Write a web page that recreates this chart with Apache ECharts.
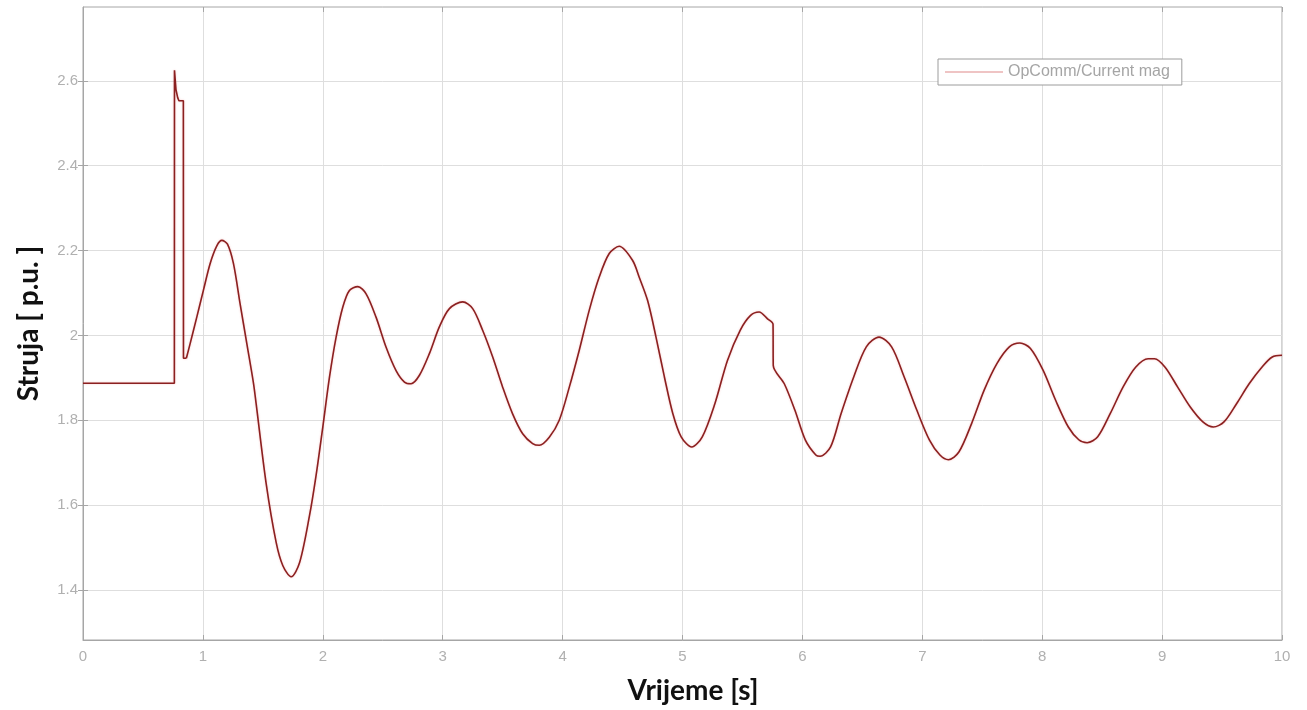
<!DOCTYPE html>
<html>
<head>
<meta charset="utf-8">
<script src="https://cdn.jsdelivr.net/npm/echarts@6/dist/echarts.min.js"></script>
<style>
html,body{margin:0;padding:0;background:#fff;}
#chart{width:1307px;height:710px;}
</style>
</head>
<body>
<div id="chart"></div>
<script>
// ---- data ----
var seriesName = 'OpComm/Current mag';
var xTitle = 'Vrijeme [s]';
var yTitle = 'Struja [ p.u. ]';
var yTickValues = [1.4, 1.6, 1.8, 2.0, 2.2, 2.4, 2.6];
var xMin = 0, xMax = 10, xStep = 1;
var yMin = 1.282, yMax = 2.774;

var time = [
  0, 0.762, 0.763, 0.775, 0.79, 0.80, 0.837, 0.838, 0.862, 0.893,
  0.949, 1.004, 1.06, 1.116, 1.158, 1.205, 1.255, 1.31, 1.366, 1.422,
  1.444, 1.528, 1.611, 1.667, 1.736, 1.806, 1.889, 1.944, 2.0, 2.056,
  2.111, 2.167, 2.222, 2.292, 2.361, 2.444, 2.528, 2.611, 2.681, 2.736,
  2.806, 2.889, 2.972, 3.056, 3.167, 3.25, 3.333, 3.417, 3.5, 3.583,
  3.667, 3.75, 3.806, 3.889, 3.972, 4.056, 4.139, 4.222, 4.306, 4.389,
  4.472, 4.583, 4.639, 4.709, 4.779, 4.849, 4.919, 4.989, 5.077, 5.165,
  5.27, 5.375, 5.481, 5.568, 5.639, 5.709, 5.755, 5.757, 5.849, 5.937,
  6.025, 6.112, 6.147, 6.235, 6.323, 6.428, 6.533, 6.639, 6.744, 6.849,
  6.954, 7.06, 7.147, 7.218, 7.305, 7.411, 7.516, 7.621, 7.726, 7.814,
  7.902, 8.007, 8.112, 8.218, 8.305, 8.375, 8.463, 8.568, 8.674, 8.779,
  8.884, 8.937, 9.025, 9.13, 9.235, 9.34, 9.428, 9.516, 9.621, 9.726,
  9.832, 9.919, 10.0
];
var current = [
  1.887, 1.887, 2.625, 2.58, 2.56, 2.553, 2.553, 1.946, 1.946, 1.98,
  2.043, 2.106, 2.169, 2.211, 2.224, 2.215, 2.169, 2.075, 1.981, 1.887,
  1.839, 1.65, 1.512, 1.457, 1.431, 1.464, 1.575, 1.67, 1.784, 1.902,
  1.996, 2.067, 2.106, 2.115, 2.098, 2.043, 1.972, 1.917, 1.89, 1.886,
  1.906, 1.957, 2.02, 2.063, 2.079, 2.063, 2.012, 1.949, 1.878, 1.815,
  1.768, 1.745, 1.741, 1.76, 1.8, 1.878, 1.965, 2.059, 2.138, 2.193,
  2.21, 2.177, 2.137, 2.082, 1.996, 1.902, 1.816, 1.761, 1.737, 1.761,
  1.839, 1.941, 2.012, 2.047, 2.055, 2.039, 2.026, 1.929, 1.886, 1.824,
  1.753, 1.718, 1.715, 1.737, 1.816, 1.902, 1.973, 1.996, 1.973, 1.902,
  1.824, 1.753, 1.718, 1.707, 1.725, 1.792, 1.871, 1.933, 1.973, 1.982,
  1.969, 1.918, 1.847, 1.784, 1.754, 1.747, 1.761, 1.816, 1.878, 1.925,
  1.945, 1.945, 1.925, 1.878, 1.831, 1.796, 1.784, 1.796, 1.839, 1.886,
  1.925, 1.949, 1.953
];
// index where the fault transient (flat pre-fault line + spike) ends and the swing begins
var swingStart = 8;

var points = time.map(function (t, i) { return [t, current[i]]; });
var faultPart = points.slice(0, swingStart + 1);
var swingPart = points.slice(swingStart);

var gridColor = '#dedede';
var frameColor = '#a6a6a6';
var labelColor = '#b0b0b0';
var titleFont = 'Lato, "Open Sans", sans-serif';
var lineColor = '#8b2020';
var lineStyle = {color: lineColor, width: 1.6, shadowColor: 'rgba(230,80,80,0.35)', shadowBlur: 2};

var chart = echarts.init(document.getElementById('chart'), null, {renderer: 'canvas'});
chart.setOption({
  animation: false,
  backgroundColor: '#ffffff',
  grid: {
    left: 83, right: 25, top: 7, bottom: 69,
    show: true, borderColor: frameColor, borderWidth: 1, backgroundColor: 'transparent'
  },
  legend: {
    left: 938, top: 59,
    orient: 'horizontal',
    padding: [5, 12, 5, 7],
    borderColor: '#9c9c9c', borderWidth: 1,
    backgroundColor: '#ffffff',
    itemWidth: 58, itemHeight: 1, itemGap: 5,
    icon: 'rect',
    itemStyle: {color: '#e08a8a'},
    textStyle: {color: '#a5a5a5', fontSize: 16, fontFamily: 'Liberation Sans, Arial, sans-serif'},
    data: [seriesName]
  },
  xAxis: [{
    type: 'value', min: xMin, max: xMax, interval: xStep,
    name: xTitle, nameLocation: 'middle', nameGap: 37,
    nameTextStyle: {color: '#111', fontSize: 28, fontWeight: 'bold', fontFamily: titleFont, padding: [0, 0, 0, 21]},
    axisLine: {show: true, lineStyle: {color: frameColor, width: 1}},
    axisTick: {show: true, inside: true, length: 5, lineStyle: {color: frameColor}},
    axisLabel: {color: labelColor, fontSize: 15, margin: 9, fontFamily: 'Liberation Sans, Arial, sans-serif'},
    splitLine: {show: true, lineStyle: {color: gridColor, width: 1}}
  }, {
    type: 'value', position: 'top', min: xMin, max: xMax, interval: xStep,
    axisLine: {show: false},
    axisTick: {show: true, inside: true, length: 5, lineStyle: {color: frameColor}},
    axisLabel: {show: false}, splitLine: {show: false}
  }],
  yAxis: [{
    type: 'value', min: yMin, max: yMax,
    name: yTitle, nameLocation: 'middle', nameGap: 40, nameRotate: 90,
    nameTextStyle: {color: '#111', fontSize: 28, fontWeight: 'bold', fontFamily: titleFont},
    axisLine: {show: true, lineStyle: {color: frameColor, width: 1}},
    axisTick: {show: true, inside: true, length: 5, customValues: yTickValues, lineStyle: {color: frameColor}},
    axisLabel: {color: labelColor, fontSize: 15, margin: 5, customValues: yTickValues,
      fontFamily: 'Liberation Sans, Arial, sans-serif'},
    splitLine: {show: true, customValues: yTickValues, lineStyle: {color: gridColor, width: 1}}
  }, {
    type: 'value', position: 'right', min: yMin, max: yMax,
    axisLine: {show: false},
    axisTick: {show: true, inside: true, length: 5, customValues: yTickValues, lineStyle: {color: frameColor}},
    axisLabel: {show: false, customValues: yTickValues}, splitLine: {show: false}
  }],
  series: [{
    name: seriesName,
    type: 'line',
    data: faultPart,
    xAxisIndex: 0, yAxisIndex: 0,
    showSymbol: false, symbol: 'none',
    smooth: false,
    lineStyle: lineStyle,
    itemStyle: {color: lineColor},
    z: 3
  }, {
    name: seriesName,
    type: 'line',
    data: swingPart,
    xAxisIndex: 0, yAxisIndex: 0,
    showSymbol: false, symbol: 'none',
    smooth: 0.3,
    lineStyle: lineStyle,
    itemStyle: {color: lineColor},
    z: 3
  }]
});
</script>
</body>
</html>
